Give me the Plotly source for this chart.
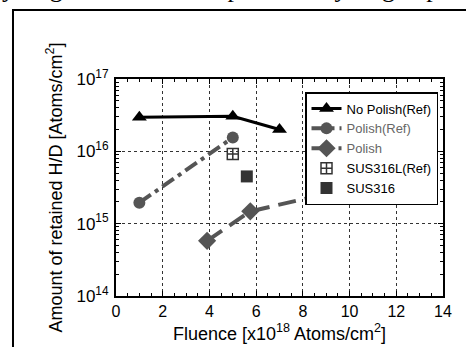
import plotly.graph_objects as go

# ---- data ----
no_polish_x = [1.0, 5.0, 7.0]
no_polish_y = [2.95e16, 3.05e16, 2.0e16]

polish_ref_x = [1.0, 5.0]
polish_ref_y = [1.95e15, 1.55e16]

polish_x = [3.9, 5.75, 8.7]
polish_y = [5.8e14, 1.48e15, 2.45e15]

sus316l_x = [5.0]
sus316l_y = [9.2e15]

sus316_x = [5.6]
sus316_y = [4.5e15]

x_ticks = [0, 2, 4, 6, 8, 10, 12, 14]
y_tick_vals = [1e14, 1e15, 1e16, 1e17]
y_tick_text = ["10<sup>14</sup>", "10<sup>15</sup>", "10<sup>16</sup>", "10<sup>17</sup>"]

FONT = "Liberation Sans, Arial, sans-serif"
GRAY = "#555555"

fig = go.Figure()
fig.add_trace(go.Scatter(
    x=no_polish_x, y=no_polish_y, mode="lines+markers", name="No Polish(Ref)",
    line=dict(color="black", width=3),
    marker=dict(symbol="triangle-up", size=13, color="black")))
fig.add_trace(go.Scatter(
    x=polish_ref_x, y=polish_ref_y, mode="lines+markers",
    name='<span style="color:#666666">Polish(Ref)</span>',
    line=dict(color=GRAY, width=4, dash="14px,5px,4px,5px"),
    marker=dict(symbol="circle", size=12, color=GRAY)))
fig.add_trace(go.Scatter(
    x=polish_x, y=polish_y, mode="lines+markers",
    name='<span style="color:#666666">Polish</span>',
    line=dict(color=GRAY, width=4, dash="18px,9px"),
    marker=dict(symbol="diamond", size=14, color=GRAY)))
fig.add_trace(go.Scatter(
    x=sus316l_x, y=sus316l_y, mode="markers", name="SUS316L(Ref)",
    marker=dict(symbol="square-cross-open", size=11, color="#333333",
                line=dict(width=1.5, color="#333333"))))
fig.add_trace(go.Scatter(
    x=sus316_x, y=sus316_y, mode="markers", name="SUS316",
    marker=dict(symbol="square", size=12, color="#333333")))

axis_common = dict(
    showline=True, linecolor="black", linewidth=2, mirror="allticks",
    ticks="inside", ticklen=5, tickwidth=1, tickcolor="black",
    showgrid=True, gridcolor="#333333", griddash="dot", gridwidth=1,
    zeroline=False,
)

fig.update_xaxes(
    range=[0, 14], tickmode="array", tickvals=x_ticks,
    tickfont=dict(family=FONT, size=16, color="black"),
    minor=dict(dtick=0.5, ticks="inside", ticklen=3, tickcolor="black", showgrid=False),
    **axis_common)

minor_y = [m * 10 ** e for e in range(14, 17) for m in range(2, 10)]
fig.update_yaxes(
    type="log", range=[14, 17], tickmode="array",
    tickvals=y_tick_vals, ticktext=y_tick_text,
    tickfont=dict(family=FONT, size=17, color="black"),
    ticklabelstandoff=2,
    minor=dict(tickmode="array", tickvals=minor_y, ticks="inside", ticklen=3,
               tickcolor="black", showgrid=False),
    **axis_common)

fig.update_layout(
    width=466, height=347,
    margin=dict(l=116, r=23, t=79, b=51),
    paper_bgcolor="white", plot_bgcolor="white",
    font=dict(family=FONT, size=13, color="black"),
    showlegend=True,
    legend=dict(x=0.578, y=0.94, xanchor="left", yanchor="top",
                bgcolor="white", bordercolor="black", borderwidth=1.5,
                font=dict(family=FONT, size=13, color="black"),
                tracegroupgap=0),
    annotations=[
        dict(text="Amount of retained H/D [Atoms/cm<sup>2</sup>]", textangle=-90,
             xref="paper", yref="paper", x=-0.1865, y=0.5,
             xanchor="center", yanchor="middle", showarrow=False,
             font=dict(family=FONT, size=18, color="black")),
        dict(text="Fluence [x10<sup>18</sup> Atoms/cm<sup>2</sup>]",
             xref="paper", yref="paper", x=0.5, y=-0.166,
             xanchor="center", yanchor="middle", showarrow=False,
             font=dict(family=FONT, size=18, color="black")),
        dict(text="hydrogen for PCHT exposed to hydrogen plasma",
             xref="paper", yref="paper", x=-0.395, y=1.343,
             xanchor="left", yanchor="bottom", showarrow=False,
             font=dict(family="Liberation Serif, Times New Roman, serif", size=26, color="black")),
    ],
    shapes=[
        dict(type="rect", xref="paper", yref="paper",
             x0=-0.315, x1=1.09, y0=-0.26, y1=1.318,
             line=dict(color="black", width=2), fillcolor="rgba(0,0,0,0)"),
    ],
)

fig.write_html("out.html", config={"displayModeBar": False},
               post_script="document.body.style.margin='0';document.body.style.overflow='hidden';")
